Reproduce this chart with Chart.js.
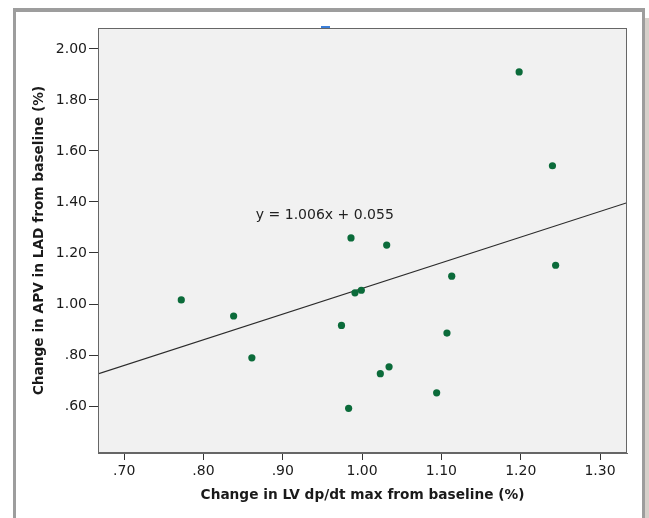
<!DOCTYPE html>
<html>
<head>
<meta charset="utf-8">
<script src="https://cdn.jsdelivr.net/npm/chart.js@4.4.1/dist/chart.umd.min.js"></script>
<style>
  html, body { margin: 0; padding: 0; background: #ffffff; width: 649px; height: 518px; overflow: hidden; }
  #frame { position: absolute; left: 13px; top: 8px; width: 626px; height: 560px;
           border-top: 4px solid #9d9d9d; border-left: 3px solid #9d9d9d; border-right: 3px solid #9d9d9d; background: #ffffff; }
  #strip { position: absolute; left: 645px; top: 18px; width: 4px; height: 500px; background: #d6d0ca; }
  #blue { position: absolute; left: 321px; top: 26px; width: 9px; height: 2px; background: #3b7fd9; z-index: 3; }
  #c { position: absolute; left: 0; top: 0; z-index: 2; }
</style>
</head>
<body>
<div id="frame"></div>
<div id="strip"></div>
<canvas id="c" width="649" height="518"></canvas>
<div id="blue"></div>
<script>
// ---- data ----
const lvDpDtChange = [0.772, 0.838, 0.861, 0.974, 0.983, 0.986, 0.991, 0.999, 1.023, 1.031, 1.034, 1.094, 1.107, 1.113, 1.198, 1.240, 1.244];
const apvLadChange = [1.016, 0.953, 0.789, 0.916, 0.591, 1.259, 1.044, 1.054, 0.727, 1.231, 0.754, 0.652, 0.886, 1.109, 1.910, 1.542, 1.152];
const fitSlope = 1.006;
const fitIntercept = 0.055;
const xTickValues = [0.7, 0.8, 0.9, 1.0, 1.1, 1.2, 1.3];
const xTickLabels = ['.70', '.80', '.90', '1.00', '1.10', '1.20', '1.30'];
const yTickValues = [0.6, 0.8, 1.0, 1.2, 1.4, 1.6, 1.8, 2.0];
const yTickLabels = ['.60', '.80', '1.00', '1.20', '1.40', '1.60', '1.80', '2.00'];
const xRange = [0.667, 1.334];
const yRange = [0.416, 2.082];
const xTitle = 'Change in LV dp/dt max from baseline (%)';
const yTitle = 'Change in APV in LAD from baseline (%)';
const eqLabelPos = { x: 0.866, y: 1.346 };

const points = lvDpDtChange.map((x, i) => ({ x: x, y: apvLadChange[i] }));
const fitLine = xRange.map(x => ({ x: x, y: fitSlope * x + fitIntercept }));
const eqText = 'y = ' + fitSlope.toFixed(3) + 'x + ' + fitIntercept.toFixed(3);

const FONT = "'DejaVu Sans', sans-serif";

const plotDecor = {
  id: 'plotDecor',
  beforeDraw(chart) {
    const { ctx, chartArea: a } = chart;
    ctx.save();
    ctx.fillStyle = '#f1f1f1';
    ctx.fillRect(a.left, a.top, a.right - a.left, a.bottom - a.top);
    ctx.restore();
  },
  afterDraw(chart) {
    const { ctx, chartArea: a, scales } = chart;
    ctx.save();
    ctx.strokeStyle = '#666666';
    ctx.lineWidth = 1;
    ctx.strokeRect(a.left + 0.5, a.top + 0.5, a.right - a.left - 1, a.bottom - a.top - 1);
    ctx.fillStyle = '#222222';
    ctx.font = '14px ' + FONT;
    ctx.textAlign = 'left';
    ctx.textBaseline = 'middle';
    ctx.fillText(eqText, scales.x.getPixelForValue(eqLabelPos.x), scales.y.getPixelForValue(eqLabelPos.y));
    ctx.restore();
  }
};

new Chart(document.getElementById('c'), {
  data: {
    datasets: [
      {
        type: 'scatter',
        data: points,
        backgroundColor: '#0b6b3a',
        borderColor: '#0b6b3a',
        pointRadius: 3.6,
        pointHoverRadius: 3.6,
        borderWidth: 0,
        order: 1
      },
      {
        type: 'line',
        data: fitLine,
        borderColor: '#2b2b2b',
        borderWidth: 1.2,
        pointRadius: 0,
        fill: false,
        tension: 0,
        order: 2
      }
    ]
  },
  options: {
    responsive: false,
    animation: false,
    devicePixelRatio: 1,
    events: [],
    layout: { padding: { left: 0, top: 28, right: 22, bottom: 0 } },
    plugins: { legend: { display: false }, tooltip: { enabled: false } },
    scales: {
      x: {
        type: 'linear',
        position: 'bottom',
        min: xRange[0],
        max: xRange[1],
        afterBuildTicks: s => { s.ticks = xTickValues.map(v => ({ value: v })); },
        afterFit: s => { s.height = 65; },
        ticks: {
          callback: (v, i) => xTickLabels[i],
          font: { family: FONT, size: 14 },
          color: '#1a1a1a',
          padding: 3,
          maxRotation: 0,
          autoSkip: false
        },
        grid: { drawOnChartArea: false, drawTicks: true, tickLength: 7, color: '#333333', lineWidth: 1 },
        border: { display: true, color: '#666666', width: 1 },
        title: {
          display: true,
          text: xTitle,
          font: { family: FONT, size: 13.7, weight: 'bold' },
          color: '#1a1a1a',
          padding: { top: 0, bottom: 14.8 }
        }
      },
      y: {
        type: 'linear',
        position: 'left',
        min: yRange[0],
        max: yRange[1],
        afterBuildTicks: s => { s.ticks = yTickValues.map(v => ({ value: v })); },
        afterFit: s => { s.width = 98; },
        ticks: {
          callback: (v, i) => yTickLabels[i],
          font: { family: FONT, size: 14 },
          color: '#1a1a1a',
          padding: 2,
          autoSkip: false
        },
        grid: { drawOnChartArea: false, drawTicks: true, tickLength: 9, color: '#333333', lineWidth: 1 },
        border: { display: true, color: '#666666', width: 1 },
        title: {
          display: true,
          text: yTitle,
          font: { family: FONT, size: 13.7, weight: 'bold' },
          color: '#1a1a1a',
          padding: { top: 30.8, bottom: 0 }
        }
      }
    }
  },
  plugins: [plotDecor]
});
</script>
</body>
</html>
